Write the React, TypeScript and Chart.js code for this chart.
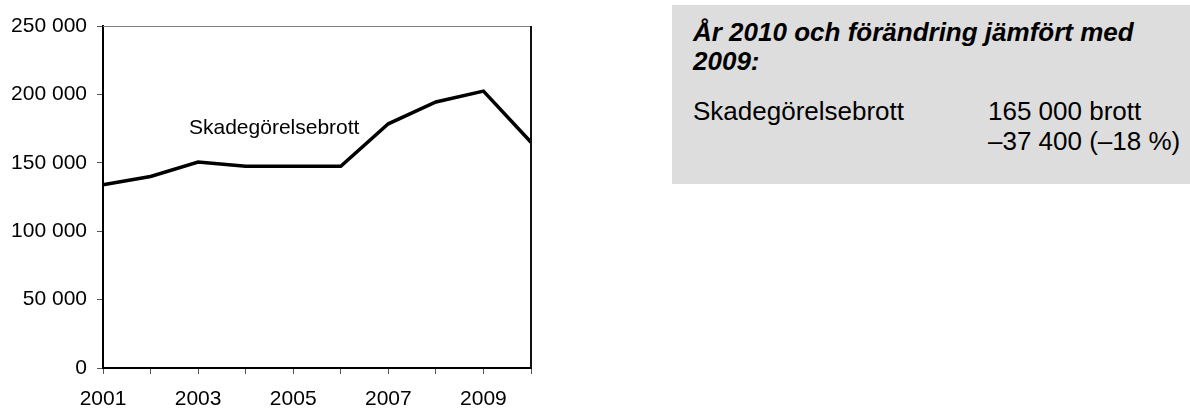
import React, { useEffect, useRef } from "react";
import { Chart, registerables } from "chart.js";

Chart.register(...registerables);

const years = ["2001", "2002", "2003", "2004", "2005", "2006", "2007", "2008", "2009", "2010"];
const skadegorelsebrott = [134000, 140000, 150500, 147500, 147500, 147500, 178500, 194500, 202400, 165000];
const yTicks = [0, 50000, 100000, 150000, 200000, 250000];
const seriesLabel = "Skadegörelsebrott";
const boxTitle = ["År 2010 och förändring jämfört med", "2009:"];
const boxRowLabel = "Skadegörelsebrott";
const boxRowValues = ["165 000 brott", "–37 400 (–18 %)"];

const FONT = '"Liberation Sans", Arial, Helvetica, sans-serif';
const LABEL_ANCHOR = { xIndex: 3.6, y: 175300 };

const fmt = (v: number) => String(v).replace(/\B(?=(\d{3})+(?!\d))/g, " ");

const framePlugin = {
  id: "frameAndLabel",
  afterDatasetsDraw(chart: any) {
    const { ctx, chartArea, scales } = chart;
    ctx.save();
    ctx.strokeStyle = "#808080";
    ctx.lineWidth = 1;
    ctx.beginPath();
    ctx.moveTo(chartArea.left, chartArea.top + 0.5);
    ctx.lineTo(chartArea.right, chartArea.top + 0.5);
    ctx.stroke();
    ctx.strokeStyle = "#111";
    ctx.lineWidth = 2;
    ctx.beginPath();
    ctx.moveTo(chartArea.right, chartArea.top);
    ctx.lineTo(chartArea.right, chartArea.bottom);
    ctx.stroke();
    const x = scales.x.getPixelForValue(LABEL_ANCHOR.xIndex);
    const y = scales.y.getPixelForValue(LABEL_ANCHOR.y);
    ctx.fillStyle = "#000";
    ctx.font = `21px ${FONT}`;
    ctx.textAlign = "center";
    ctx.textBaseline = "middle";
    ctx.fillText(seriesLabel, x, y);
    ctx.restore();
  },
};

export default function App() {
  const ref = useRef<HTMLCanvasElement | null>(null);

  useEffect(() => {
    if (!ref.current) return;
    const chart = new Chart(ref.current, {
      type: "line",
      data: {
        labels: years,
        datasets: [
          {
            label: seriesLabel,
            data: skadegorelsebrott,
            borderColor: "#000",
            borderWidth: 3.5,
            pointRadius: 0,
            tension: 0,
            fill: false,
          },
        ],
      },
      options: {
        responsive: false,
        animation: false,
        devicePixelRatio: 1,
        layout: { padding: { top: 26, right: 29, bottom: 0, left: 0 } },
        plugins: { legend: { display: false }, tooltip: { enabled: false } },
        scales: {
          x: {
            type: "category",
            offset: false,
            grid: { drawOnChartArea: false, drawTicks: true, tickLength: 6, color: "#555", lineWidth: 1 },
            border: { display: true, color: "#000", width: 2 },
            ticks: {
              autoSkip: false,
              maxRotation: 0,
              padding: 13,
              color: "#000",
              font: { family: FONT, size: 21 },
              callback: (_v: any, i: number) => (i % 2 === 0 ? years[i] : ""),
            },
            afterFit: (s: any) => {
              s.height = 42;
            },
          },
          y: {
            min: 0,
            max: 250000,
            afterBuildTicks: (s: any) => {
              s.ticks = yTicks.map((v) => ({ value: v }));
            },
            grid: { drawOnChartArea: false, drawTicks: true, tickLength: 6, color: "#555", lineWidth: 1 },
            border: { display: true, color: "#000", width: 2 },
            ticks: {
              padding: 10,
              color: "#000",
              font: { family: FONT, size: 21 },
              callback: (v: any) => fmt(Number(v)),
            },
            afterFit: (s: any) => {
              s.width = 103;
            },
          },
        },
      },
      plugins: [framePlugin],
    });
    return () => chart.destroy();
  }, []);

  return (
    <div style={{ position: "absolute", left: 0, top: 0, width: 1190, height: 410, background: "#fff", overflow: "hidden", fontFamily: FONT, color: "#000" }}>
      <canvas ref={ref} width={560} height={410} style={{ position: "absolute", left: 0, top: 0, width: 560, height: 410 }} />
      <div style={{ position: "absolute", left: 672, top: 5, width: 518, height: 179, background: "#dddddd" }} />
      <div style={{ position: "absolute", left: 693, top: 18, fontSize: 26, lineHeight: "29px", fontWeight: "bold", fontStyle: "italic", whiteSpace: "nowrap" }}>
        {boxTitle[0]}
        <br />
        {boxTitle[1]}
      </div>
      <div style={{ position: "absolute", left: 693, top: 96, fontSize: 26, lineHeight: "30px", whiteSpace: "nowrap" }}>{boxRowLabel}</div>
      <div style={{ position: "absolute", left: 988, top: 96, fontSize: 26, lineHeight: "30px", whiteSpace: "nowrap" }}>
        {boxRowValues[0]}
        <br />
        {boxRowValues[1]}
      </div>
    </div>
  );
}
